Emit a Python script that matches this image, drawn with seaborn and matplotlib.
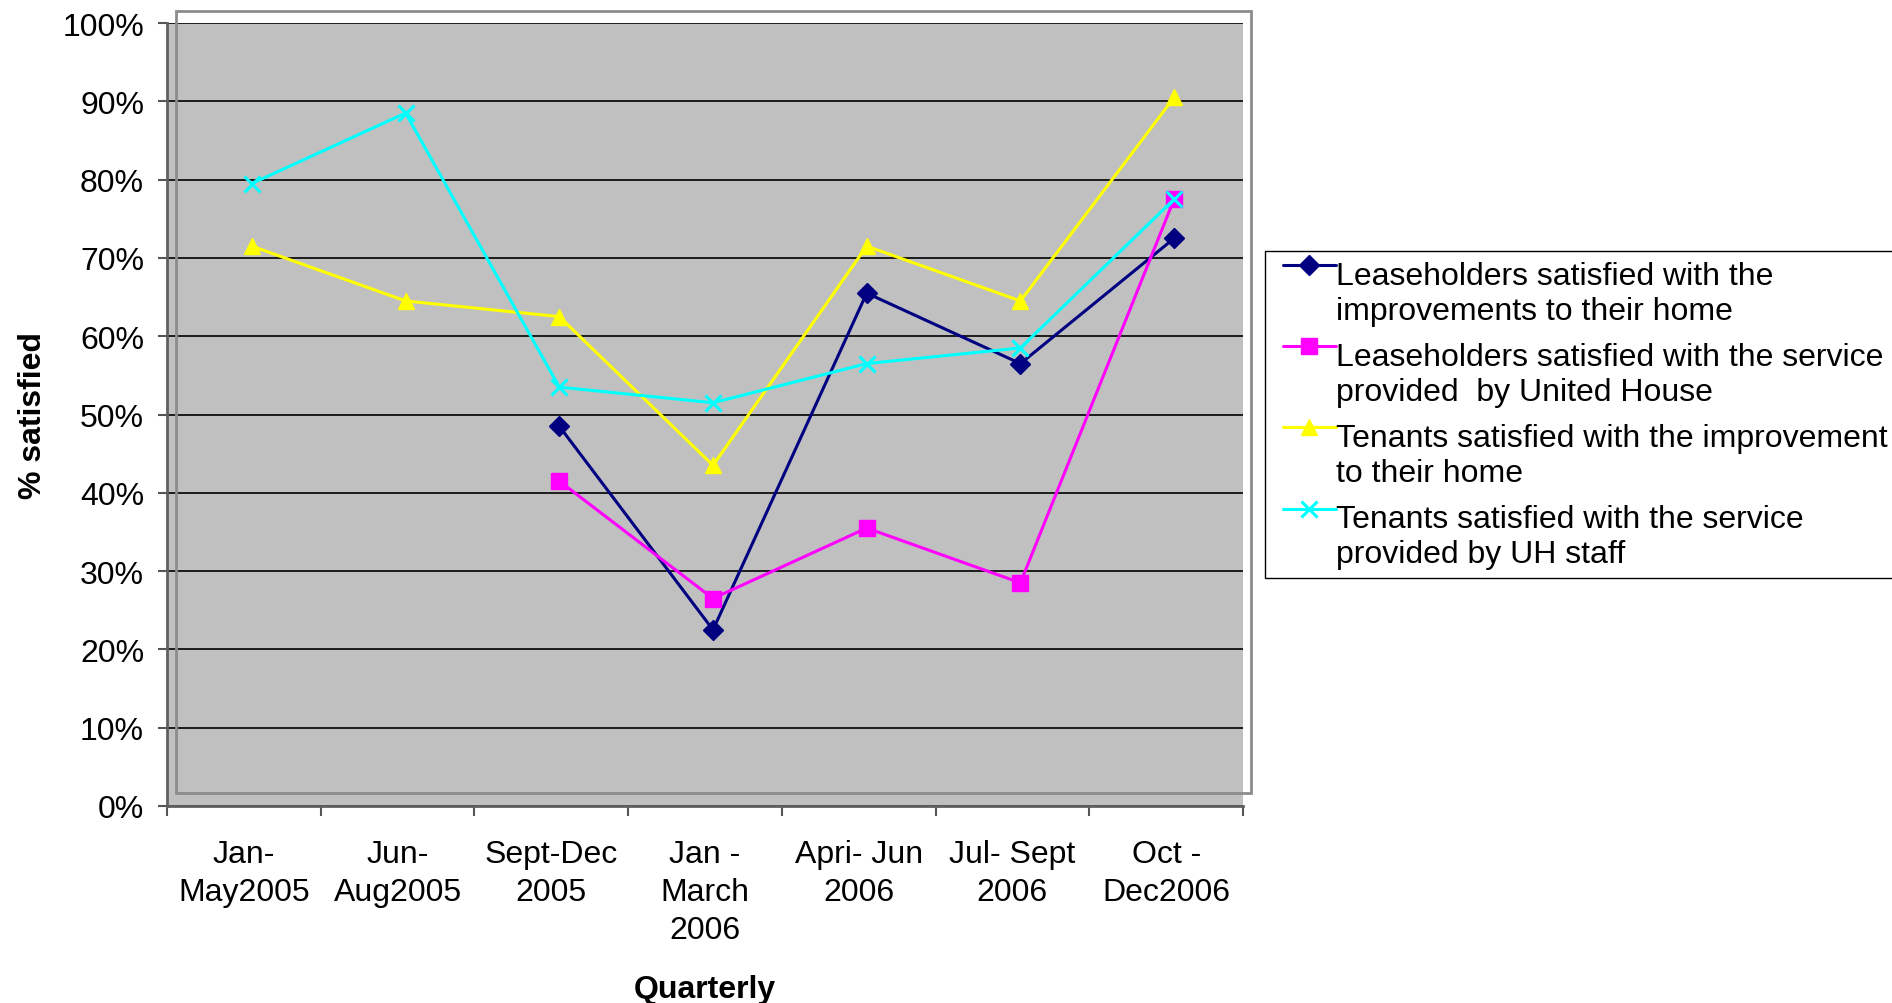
import numpy as np
import pandas as pd
import seaborn as sns
import matplotlib
matplotlib.use("Agg")
import matplotlib.pyplot as plt
from matplotlib.ticker import PercentFormatter
from matplotlib.patches import Rectangle
from matplotlib.lines import Line2D
from matplotlib import transforms

# quarters on the x axis
quarters = ["Jan-\nMay2005", "Jun-\nAug2005", "Sept-Dec\n2005", "Jan -\nMarch\n2006",
            "Apri- Jun\n2006", "Jul- Sept\n2006", "Oct -\nDec2006"]

# % satisfied (nan = no survey that quarter)
lease_improvements = [np.nan, np.nan, 48.5, 22.5, 65.5, 56.5, 72.5]
lease_service = [np.nan, np.nan, 41.5, 26.5, 35.5, 28.5, 77.5]
tenant_improvements = [71.5, 64.5, 62.5, 43.5, 71.5, 64.5, 90.5]
tenant_service = [79.5, 88.5, 53.5, 51.5, 56.5, 58.5, 77.5]

series_labels = [
    "Leaseholders satisfied with the\nimprovements to their home",
    "Leaseholders satisfied with the service\nprovided  by United House",
    "Tenants satisfied with the improvement\nto their home",
    "Tenants satisfied with the service\nprovided by UH staff",
]

sns.set_style("ticks")
plt.rcParams["font.family"] = ["Liberation Sans", "DejaVu Sans"]
plt.rcParams["text.color"] = "black"
plt.rcParams["axes.labelcolor"] = "black"

FS = 23
W, H = 1892, 1004
fig = plt.figure(figsize=(W / 100, H / 100), dpi=100)
ax = fig.add_axes([167 / W, 1 - 807 / H, (1243 - 167) / W, (807 - 24) / H])
ax.set_facecolor("#c0c0c0")

x = np.arange(len(quarters))
styles = [
    (lease_improvements, "#000080", "D", 10, 1),
    (lease_service, "#ff00ff", "s", 11.5, 1),
    (tenant_improvements, "#ffff00", "^", 11, 1),
    (tenant_service, "#00ffff", "x", 11, 2.2),
]

# points sit a few pixels right of the category centres in the original
shift = transforms.offset_copy(ax.transData, fig=fig, x=8, y=0, units="dots")

handles = []
for (vals, col, mk, ms, mew), lab in zip(styles, series_labels):
    df = pd.DataFrame({"q": x, "pct": vals})
    n_before = len(ax.lines)
    sns.lineplot(data=df, x="q", y="pct", ax=ax, color=col, marker=mk,
                 markersize=ms, markeredgewidth=mew, markeredgecolor=col,
                 linewidth=2.2, legend=False, zorder=3)
    line = ax.lines[n_before]
    line.set_transform(shift)
    handles.append(line)

ax.set_xlim(-0.5, 6.5)
ax.set_ylim(0, 100)
ax.yaxis.set_major_formatter(PercentFormatter(100, decimals=0))
ax.set_yticks(np.arange(0, 101, 10))

# tick marks between categories, labels at the centres
ax.set_xticks(np.arange(-0.5, 7, 1))
ax.set_xticklabels([])
ax.set_xticks(x, minor=True)
ax.set_xticklabels(quarters, minor=True, fontsize=FS, linespacing=1.35)
ax.tick_params(axis="x", which="major", length=7, width=1.5, color="#555555", direction="out")
ax.tick_params(axis="x", which="minor", length=0, pad=24, labelcolor="black")
ax.tick_params(axis="y", length=6.5, width=1.5, color="#555555", labelsize=FS, pad=10,
               labelcolor="black")

ax.yaxis.grid(True, color="black", linewidth=1.2)
ax.xaxis.grid(False)
ax.set_axisbelow(True)
for s in ["top", "right"]:
    ax.spines[s].set_visible(False)
for s in ["left", "bottom"]:
    ax.spines[s].set_color("#606060")
    ax.spines[s].set_linewidth(2)

ax.set_xlabel("Quarterly", fontsize=FS, fontweight="bold")
ax.xaxis.set_label_coords(0.5, -0.2146)
ax.set_ylabel("% satisfied", fontsize=FS, fontweight="bold")
ax.yaxis.set_label_coords(-0.111, 0.5)

# the offset plot-area frame from the original chart
fig.add_artist(Rectangle((176 / W, 1 - 794 / H), (1251 - 176) / W, (794 - 12) / H,
                         transform=fig.transFigure, fill=False,
                         edgecolor="#8c8c8c", linewidth=2))

leg = fig.legend(handles, series_labels, loc="upper left",
                 bbox_to_anchor=(1265 / W, 1 - 252 / H), borderaxespad=0,
                 fontsize=FS, frameon=True, fancybox=False, framealpha=1,
                 edgecolor="black", handlelength=1.68, handletextpad=0.25,
                 borderpad=0.3, labelspacing=0.5)
leg.get_frame().set_linewidth(1)
for t in leg.get_texts():
    t.set_linespacing(1.22)
# legend keys sit at the first text line, a little to the right
key_shift = transforms.ScaledTranslation(8 / 100, 28 / 100, fig.dpi_scale_trans)
for ln in leg.findobj(Line2D):
    ln.set_transform(ln.get_transform() + key_shift)

fig.savefig("out.png", dpi=100, facecolor="white")
